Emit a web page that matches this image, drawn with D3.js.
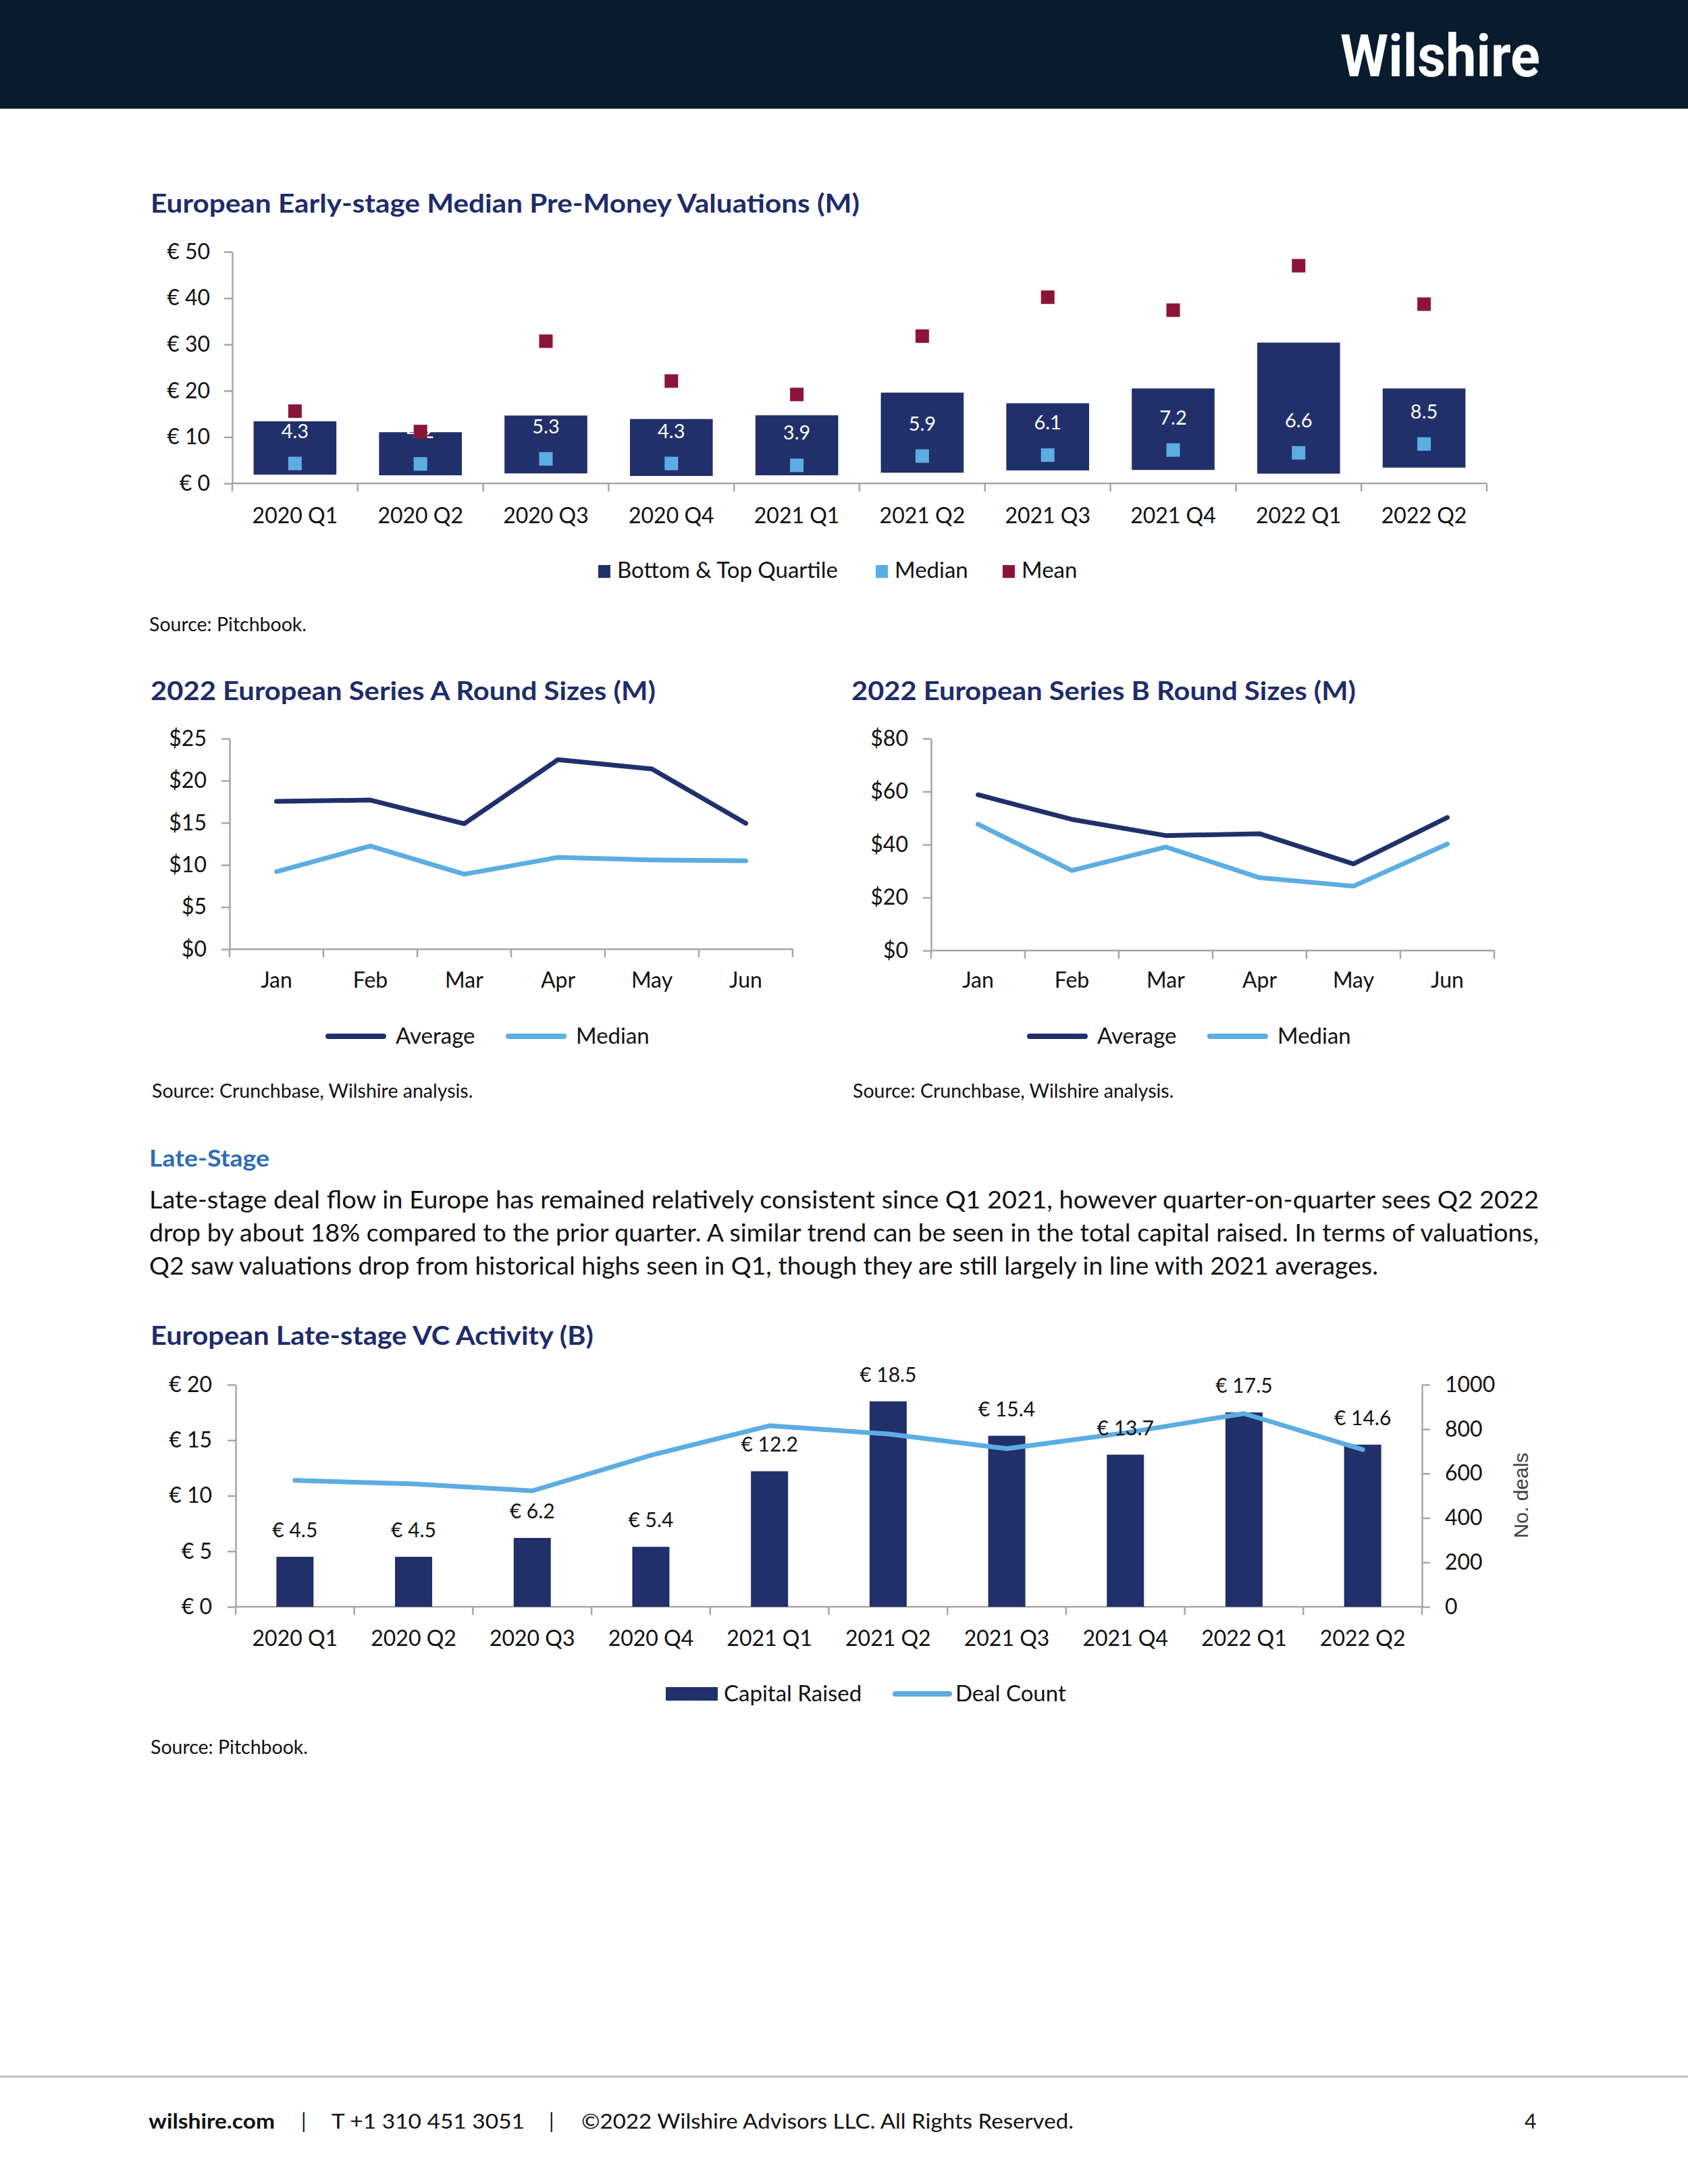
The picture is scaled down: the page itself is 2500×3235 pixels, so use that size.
<!DOCTYPE html>
<html>
<head>
<meta charset="utf-8">
<script src="https://cdn.jsdelivr.net/npm/d3@7/dist/d3.min.js"></script>
<style>
  html, body { margin: 0; padding: 0; background: #ffffff; }
  svg { display: block; }
</style>
</head>
<body>
<svg id="page" width="2500" height="3235"></svg>
<script>
// ---------------- DATA ----------------
const quarters = ["2020 Q1","2020 Q2","2020 Q3","2020 Q4","2021 Q1","2021 Q2","2021 Q3","2021 Q4","2022 Q1","2022 Q2"];
// Early-stage pre-money valuations (EUR M)
const earlyBottomQuartile = [1.9, 1.75, 2.15, 1.6, 1.75, 2.3, 2.8, 2.9, 2.1, 3.4];
const earlyTopQuartile    = [13.4, 11.05, 14.65, 13.9, 14.7, 19.6, 17.3, 20.5, 30.4, 20.5];
const earlyMedian         = [4.3, 4.2, 5.3, 4.3, 3.9, 5.9, 6.1, 7.2, 6.6, 8.5];
const earlyMean           = [15.6, 11.2, 30.7, 22.1, 19.2, 31.8, 40.2, 37.4, 47.0, 38.7];
const earlyTicks          = [0, 10, 20, 30, 40, 50];

// 2022 Series A / B round sizes ($M)
const months        = ["Jan","Feb","Mar","Apr","May","Jun"];
const seriesAAvg    = [17.55, 17.7, 14.9, 22.5, 21.4, 14.95];
const seriesAMedian = [9.2, 12.25, 8.9, 10.9, 10.6, 10.5];
const seriesATicks  = [0, 5, 10, 15, 20, 25];
const seriesBAvg    = [58.8, 49.5, 43.4, 44.1, 32.7, 50.2];
const seriesBMedian = [47.7, 30.2, 39.1, 27.5, 24.3, 40.2];
const seriesBTicks  = [0, 20, 40, 60, 80];

// Late-stage VC activity
const lateCapital   = [4.5, 4.5, 6.2, 5.4, 12.2, 18.5, 15.4, 13.7, 17.5, 14.6];
const lateDeals     = [569, 553, 522, 682, 815, 778, 712, 783, 870, 708];
const lateLeftTicks = [0, 5, 10, 15, 20];
const lateRightTicks= [0, 200, 400, 600, 800, 1000];

const bodyLines = [
  "Late-stage deal flow in Europe has remained relatively consistent since Q1 2021, however quarter-on-quarter sees Q2 2022",
  "drop by about 18% compared to the prior quarter. A similar trend can be seen in the total capital raised. In terms of valuations,",
  "Q2 saw valuations drop from historical highs seen in Q1, though they are still largely in line with 2021 averages."
];

// ---------------- STYLE ----------------
const FONT = "Lato, 'Open Sans', 'Noto Sans', sans-serif";
const NAVY = "#21306a";
const TITLE = "#1f2c6b";
const LIGHT = "#5cade1";
const CRIMSON = "#8b1538";
const AXIS = "#a6a6a6";
const TEXT = "#111111";

const svg = d3.select("#page");

// ---------------- HEADER ----------------
svg.append("rect").attr("x",0).attr("y",0).attr("width",2500).attr("height",161).attr("fill","#081c2e");
svg.append("text").attr("x",1985).attr("y",113)
  .attr("font-family","Roboto, 'Liberation Sans', sans-serif").attr("font-weight",700)
  .attr("font-size",88).attr("fill","#ffffff")
  .attr("textLength",296).attr("lengthAdjust","spacingAndGlyphs")
  .text("Wilshire");

// helpers
function title(x, y, txt, len) {
  svg.append("text").attr("x",x).attr("y",y)
    .attr("font-family",FONT).attr("font-weight",700).attr("font-size",38)
    .attr("fill",TITLE).attr("textLength",len).attr("lengthAdjust","spacingAndGlyphs")
    .text(txt);
}
function source(x, y, txt) {
  svg.append("text").attr("x",x).attr("y",y)
    .attr("font-family",FONT).attr("font-size",28.5).attr("fill",TEXT).text(txt);
}
function styleAxis(g) {
  g.select(".domain").attr("stroke",AXIS).attr("stroke-width",2.5);
  g.selectAll(".tick line").attr("stroke",AXIS).attr("stroke-width",2.5);
  g.selectAll(".tick text").attr("font-family",FONT).attr("font-size",32).attr("fill",TEXT);
}
function bandAxis(xs, y0, labelY, fontSize) {
  const [r0, r1] = xs.range();
  svg.append("line").attr("x1",r0).attr("x2",r1).attr("y1",y0).attr("y2",y0)
    .attr("stroke",AXIS).attr("stroke-width",2.5);
  const bounds = xs.domain().map(d => xs(d)).concat([xs(xs.domain()[xs.domain().length-1]) + xs.bandwidth()]);
  svg.append("g").selectAll("line").data(bounds).join("line")
    .attr("x1",d=>d).attr("x2",d=>d).attr("y1",y0).attr("y2",y0+12)
    .attr("stroke",AXIS).attr("stroke-width",2.5);
  svg.append("g").selectAll("text").data(xs.domain()).join("text")
    .attr("x",d=>xs(d)+xs.bandwidth()/2).attr("y",labelY)
    .attr("text-anchor","middle").attr("font-family",FONT).attr("font-size",fontSize||32)
    .attr("fill",TEXT).text(d=>d);
}

// ---------------- CHART 1 ----------------
title(223, 315, "European Early-stage Median Pre-Money Valuations (M)", 1050);
{
  const x = d3.scaleBand().domain(quarters).range([344, 2202]).padding(0);
  const y = d3.scaleLinear().domain([0, 50]).range([716, 373]);
  const bw = x.bandwidth();
  const gY = svg.append("g").attr("transform","translate(344,0)")
    .call(d3.axisLeft(y).tickValues(earlyTicks).tickSize(12).tickSizeOuter(0).tickPadding(21)
      .tickFormat(d => "€ " + d));
  styleAxis(gY);
  bandAxis(x, 716, 775);

  const rows = quarters.map((q,i)=>({q, lo:earlyBottomQuartile[i], hi:earlyTopQuartile[i], med:earlyMedian[i], mean:earlyMean[i]}));
  svg.append("g").selectAll("rect").data(rows).join("rect")
    .attr("x",d=>x(d.q)+bw*0.17).attr("width",bw*0.66)
    .attr("y",d=>y(d.hi)).attr("height",d=>y(d.lo)-y(d.hi)).attr("fill",NAVY);
  svg.append("g").selectAll("text").data(rows).join("text")
    .attr("x",d=>x(d.q)+bw/2).attr("y",d=>y(d.med+7)).attr("dy","0.35em")
    .attr("text-anchor","middle").attr("font-family",FONT).attr("font-size",29)
    .attr("fill","#ffffff").text(d=>d3.format(".1f")(d.med));
  svg.append("g").selectAll("rect").data(rows).join("rect")
    .attr("x",d=>x(d.q)+bw/2-10).attr("y",d=>y(d.med)-10).attr("width",20).attr("height",20).attr("fill",LIGHT);
  svg.append("g").selectAll("rect").data(rows).join("rect")
    .attr("x",d=>x(d.q)+bw/2-10).attr("y",d=>y(d.mean)-10).attr("width",20).attr("height",20).attr("fill",CRIMSON);

  const leg = [{t:"Bottom & Top Quartile", c:NAVY, x:886},{t:"Median", c:LIGHT, x:1297},{t:"Mean", c:CRIMSON, x:1485}];
  const lg = svg.append("g").selectAll("g").data(leg).join("g");
  lg.append("rect").attr("x",d=>d.x).attr("y",837).attr("width",18).attr("height",19).attr("fill",d=>d.c);
  lg.append("text").attr("x",d=>d.x+28).attr("y",856).attr("font-family",FONT).attr("font-size",33)
    .attr("fill",TEXT).text(d=>d.t);
}
source(221, 935, "Source: Pitchbook.");

// ---------------- CHARTS 2 & 3 ----------------
function lineChart(cfg) {
  title(cfg.tx, 1037, cfg.title, cfg.tlen);
  const x = d3.scaleBand().domain(months).range([cfg.x0, cfg.x1]).padding(0);
  const y = d3.scaleLinear().domain([0, cfg.max]).range([cfg.y0, 1094]);
  const gY = svg.append("g").attr("transform",`translate(${cfg.x0},0)`)
    .call(d3.axisLeft(y).tickValues(cfg.ticks).tickSize(12).tickSizeOuter(0).tickPadding(22)
      .tickFormat(d => "$" + d));
  styleAxis(gY);
  bandAxis(x, cfg.y0, 1463);
  const line = d3.line().x((d,i)=>x(months[i])+x.bandwidth()/2).y(d=>y(d));
  [[cfg.med, LIGHT],[cfg.avg, NAVY]].forEach(([vals,col])=>{
    svg.append("path").datum(vals).attr("d",line).attr("fill","none")
      .attr("stroke",col).attr("stroke-width",7).attr("stroke-linejoin","round").attr("stroke-linecap","round");
  });
  const leg = [{t:"Average", c:NAVY, x:cfg.lx},{t:"Median", c:LIGHT, x:cfg.lx+267}];
  const lg = svg.append("g").selectAll("g").data(leg).join("g");
  lg.append("line").attr("x1",d=>d.x).attr("x2",d=>d.x+82).attr("y1",1535).attr("y2",1535)
    .attr("stroke",d=>d.c).attr("stroke-width",8).attr("stroke-linecap","round");
  lg.append("text").attr("x",d=>d.x+100).attr("y",1546).attr("font-family",FONT).attr("font-size",33)
    .attr("fill",TEXT).text(d=>d.t);
  source(cfg.tx+2, 1626, "Source: Crunchbase, Wilshire analysis.");
}
lineChart({tx:223, title:"2022 European Series A Round Sizes (M)", tlen:748, x0:340, x1:1174, y0:1406, max:25,
  ticks:seriesATicks, avg:seriesAAvg, med:seriesAMedian, lx:486});
lineChart({tx:1261, title:"2022 European Series B Round Sizes (M)", tlen:747, x0:1379, x1:2213, y0:1408, max:80,
  ticks:seriesBTicks, avg:seriesBAvg, med:seriesBMedian, lx:1525});

// ---------------- TEXT SECTION ----------------
svg.append("text").attr("x",221).attr("y",1728).attr("font-family",FONT).attr("font-weight",700)
  .attr("font-size",35).attr("fill","#2e6db4").attr("textLength",178).attr("lengthAdjust","spacingAndGlyphs")
  .text("Late-Stage");
const bodyLens = [2058, 2058, 1820];
svg.append("g").selectAll("text").data(bodyLines).join("text")
  .attr("x",221).attr("y",(d,i)=>1790+i*49)
  .attr("font-family",FONT).attr("font-size",36).attr("fill",TEXT)
  .attr("textLength",(d,i)=>bodyLens[i]).attr("lengthAdjust","spacingAndGlyphs")
  .text(d=>d);

// ---------------- CHART 4 ----------------
title(223, 1992, "European Late-stage VC Activity (B)", 656);
{
  const x = d3.scaleBand().domain(quarters).range([349, 2106]).padding(0);
  const y = d3.scaleLinear().domain([0, 20]).range([2380, 2051]);
  const y2 = d3.scaleLinear().domain([0, 1000]).range([2380, 2051]);
  const bw = x.bandwidth();
  const gY = svg.append("g").attr("transform","translate(349,0)")
    .call(d3.axisLeft(y).tickValues(lateLeftTicks).tickSize(12).tickSizeOuter(0).tickPadding(23)
      .tickFormat(d => "€ " + d));
  styleAxis(gY);
  const gY2 = svg.append("g").attr("transform","translate(2106,0)")
    .call(d3.axisRight(y2).tickValues(lateRightTicks).tickSize(12).tickSizeOuter(0).tickPadding(22)
      .tickFormat(d3.format("d")));
  styleAxis(gY2);
  bandAxis(x, 2380, 2438);

  const rows = quarters.map((q,i)=>({q, v:lateCapital[i], n:lateDeals[i]}));
  svg.append("g").selectAll("rect").data(rows).join("rect")
    .attr("x",d=>x(d.q)+bw/2-27.5).attr("width",55)
    .attr("y",d=>y(d.v)).attr("height",d=>y(0)-y(d.v)).attr("fill",NAVY);
  const line = d3.line().x(d=>x(d.q)+bw/2).y(d=>y2(d.n));
  svg.append("path").datum(rows).attr("d",line).attr("fill","none").attr("stroke",LIGHT)
    .attr("stroke-width",7).attr("stroke-linejoin","round").attr("stroke-linecap","round");
  svg.append("g").selectAll("text").data(rows).join("text")
    .attr("x",d=>x(d.q)+bw/2).attr("y",d=>y(d.v)-29)
    .attr("text-anchor","middle").attr("font-family",FONT).attr("font-size",30).attr("fill",TEXT)
    .text(d=>"€ " + d3.format(".1f")(d.v));

  svg.append("text").attr("transform","translate(2263,2215) rotate(-90)")
    .attr("text-anchor","middle").attr("font-family","'Liberation Sans', Arial, sans-serif")
    .attr("font-size",30).attr("fill","#404040").text("No. deals");

  svg.append("rect").attr("x",986).attr("y",2499).attr("width",77).attr("height",20).attr("fill",NAVY);
  svg.append("text").attr("x",1072).attr("y",2520).attr("font-family",FONT).attr("font-size",33).attr("fill",TEXT).text("Capital Raised");
  svg.append("line").attr("x1",1326).attr("x2",1406).attr("y1",2509).attr("y2",2509)
    .attr("stroke",LIGHT).attr("stroke-width",8).attr("stroke-linecap","round");
  svg.append("text").attr("x",1415).attr("y",2520).attr("font-family",FONT).attr("font-size",33).attr("fill",TEXT).text("Deal Count");
}
source(223, 2598, "Source: Pitchbook.");

// ---------------- FOOTER ----------------
svg.append("line").attr("x1",0).attr("x2",2500).attr("y1",3076).attr("y2",3076).attr("stroke","#bdbdbd").attr("stroke-width",3);
const foot = [
  {t:"wilshire.com", x:220, w:187, b:700},
  {t:"|", x:446, b:400},
  {t:"T +1 310 451 3051", x:491, w:286, b:400},
  {t:"|", x:813, b:400},
  {t:"©2022 Wilshire Advisors LLC. All Rights Reserved.", x:861, w:729, b:400},
  {t:"4", x:2258, b:400}
];
svg.append("g").selectAll("text").data(foot).join("text")
  .attr("x",d=>d.x).attr("y",3153).attr("font-family",FONT).attr("font-size",30)
  .attr("font-weight",d=>d.b).attr("fill",TEXT)
  .each(function(d){ if (d.w) d3.select(this).attr("textLength",d.w).attr("lengthAdjust","spacingAndGlyphs"); })
  .text(d=>d.t);
</script>
</body>
</html>
